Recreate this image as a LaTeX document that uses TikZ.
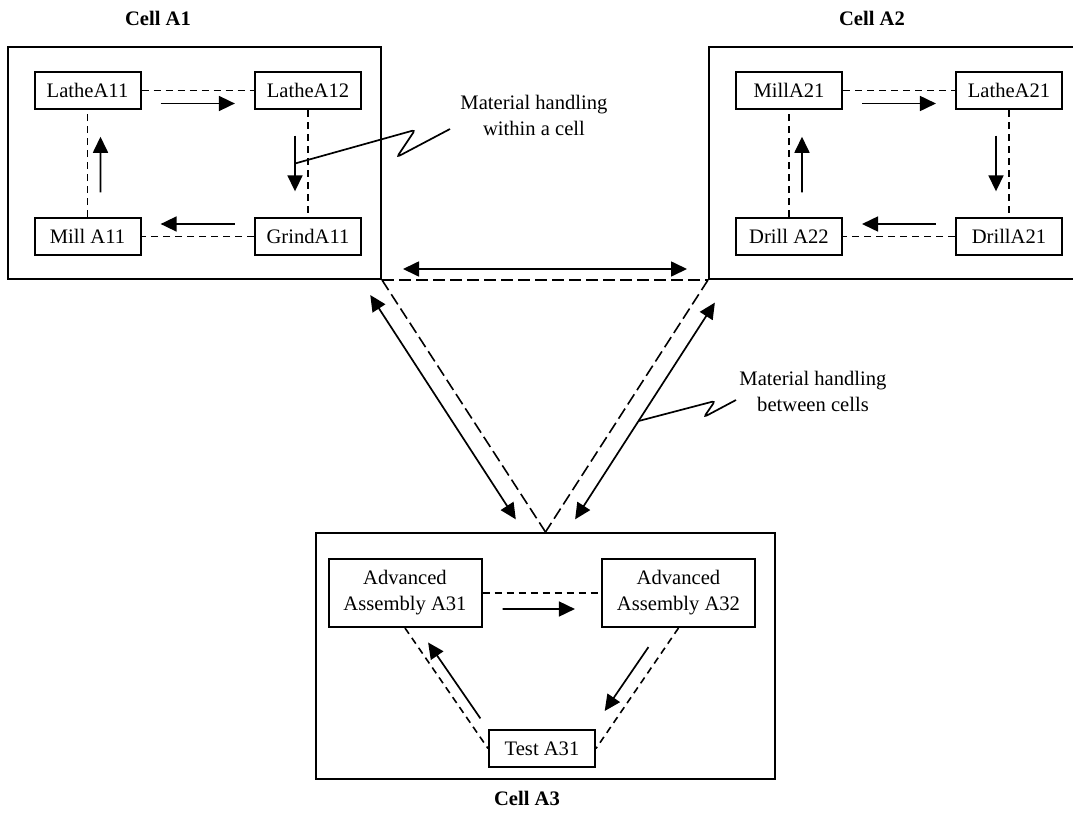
\documentclass[tikz,border=0pt]{standalone}
\usepackage{fontspec}
\setmainfont{Liberation Serif}
\usetikzlibrary{arrows.meta,calc}

\begin{document}
\begin{tikzpicture}[x=0.5pt,y=-0.5pt,
  >={Triangle[length=8pt,width=7.5pt]},
  font=\fontsize{10.3}{13}\selectfont,
  cell/.style={draw,line width=1pt,inner sep=0pt},
  machine/.style={draw,line width=1pt,minimum width=53pt,minimum height=18.5pt,inner sep=1pt,align=center},
  bigmachine/.style={machine,minimum width=76.5pt,minimum height=34pt},
  link/.style={line width=0.8pt,dash pattern=on 3.5pt off 2.5pt},
  route/.style={line width=0.8pt,dash pattern=on 6pt off 2.5pt},
  flow/.style={->,line width=0.85pt},
  title/.style={font=\fontsize{10.3}{13}\selectfont\bfseries},
  note/.style={align=center},
  callout/.style={line width=0.85pt,rounded corners=1.5pt}]
\useasboundingbox (0,0) rectangle (1073,814);
\clip (0,0) rectangle (1073,814);
% Cells
\node[cell,minimum width=186.5pt,minimum height=116pt] (cella) at (194.5,163) {};
\node[cell,minimum width=186.5pt,minimum height=116pt] (cellb) at (895.5,163) {};
\node[cell,minimum width=229.5pt,minimum height=123pt] (cellc) at (545.5,656) {};
\node[title] (titlea) at (158,18) {Cell A1};
\node[title] (titleb) at (872,18) {Cell A2};
\node[title] (titlec) at (527,798) {Cell A3};
% Cell A1
\node[machine] (la11) at ( 87.5, 90.5) {LatheA11};
\node[machine] (la12) at (308,   90.5) {LatheA12};
\node[machine] (ml11) at ( 87.5,236.5) {Mill A11};
\node[machine] (gr11) at (308,  236.5) {GrindA11};
% Cell A2
\node[machine] (ml21) at ( 789,  90.5) {MillA21};
\node[machine] (la21) at (1009,  90.5) {LatheA21};
\node[machine] (dr22) at ( 789, 236.5) {Drill A22};
\node[machine] (dr21) at (1009, 236.5) {DrillA21};
% Loops in A1 and A2
\foreach \p/\q/\r/\s in {la11/la12/gr11/ml11, ml21/la21/dr21/dr22}{
  \draw[link] (\p.east) -- (\q.west);
  \draw[link] (\q.south) -- (\r.north);
  \draw[link] (\r.west) -- (\s.east);
  \draw[link] (\s.north) -- (\p.south);
  \draw[flow] ($(\p.east)!0.17!(\q.west)+(0,13)$) -- ($(\p.east)!0.83!(\q.west)+(0,13)$);
  \draw[flow] ($(\q.south)!0.24!(\r.north)+(-13,0)$) -- ($(\q.south)!0.76!(\r.north)+(-13,0)$);
  \draw[flow] ($(\r.west)!0.17!(\s.east)+(0,-12.5)$) -- ($(\r.west)!0.83!(\s.east)+(0,-12.5)$);
  \draw[flow] ($(\s.north)!0.23!(\p.south)+(13,0)$) -- ($(\s.north)!0.75!(\p.south)+(13,0)$);
}
% Cell A3
\node[bigmachine] (aa31) at (405,593) {Advanced\\Assembly A31};
\node[bigmachine] (aa32) at (678.5,593) {Advanced\\Assembly A32};
\node[machine] (ts31) at (542,748.5) {Test A31};
\draw[link] (aa31.east) -- (aa32.west);
\draw[link] (aa32.south) -- (ts31.east);
\draw[link] (aa31.south) -- (ts31.west);
\draw[flow] ($(aa31.east)!0.17!(aa32.west)+(0,16)$) -- ($(aa31.east)!0.78!(aa32.west)+(0,16)$);
\draw[flow] ($(aa32.south)!0.225!(ts31.east)+(-11.5,-8)$) -- ($(aa32.south)!0.755!(ts31.east)+(-11.5,-8)$);
\draw[flow] ($(aa31.south)!0.8!(ts31.west)+(9,-6)$) -- ($(aa31.south)!0.17!(ts31.west)+(9,-6)$);
% Between cells
\draw[route] (cella.south east) -- (cellb.south west);
\draw[route] (cella.south east) -- (cellc.north);
\draw[route] (cellb.south west) -- (cellc.north);
\draw[flow,<->] ($(cella.south east)+(21,-11)$) -- ($(cellb.south west)+(-21,-11)$);
\draw[flow,<->] ($(cella.south east)!0.02!(cellc.north)+(-15,10)$) -- ($(cella.south east)!0.91!(cellc.north)+(-15,10)$);
\draw[flow,<->] ($(cellb.south west)!0.05!(cellc.north)+(15,10)$) -- ($(cellb.south west)!0.91!(cellc.north)+(15,10)$);
% Notes
\node[note] (notea) at (534,115) {Material handling\\within a cell};
\node[note] (noteb) at (813,391) {Material handling\\between cells};
\coordinate (pina) at ($(la12.south)!0.5!(gr11.north)+(-13,0)$);
\coordinate (pinb) at ($(cellb.south west)!0.52!(cellc.north)+(15,10)$);
\draw[callout] (pina) -- (415,130) -- (397,157) -- (450,129);
\draw[callout] (pinb) -- (715,401) -- (704,417) -- (736,400);
\end{tikzpicture}
\end{document}
